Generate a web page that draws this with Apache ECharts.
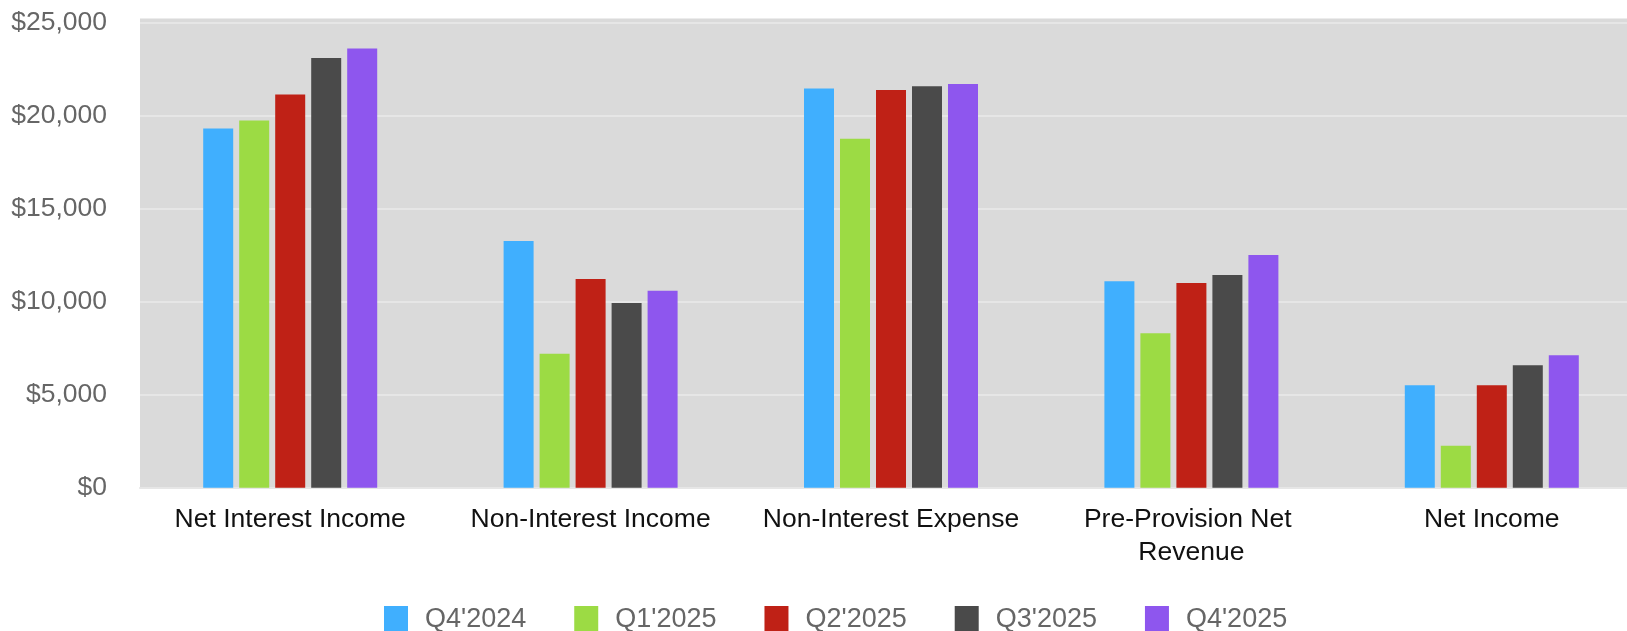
<!DOCTYPE html>
<html>
<head>
<meta charset="utf-8">
<script src="https://cdn.jsdelivr.net/npm/echarts@6/dist/echarts.min.js"></script>
<style>
html,body{margin:0;padding:0;background:#fff;}
#chart{width:1627px;height:631px;}
</style>
</head>
<body>
<div id="chart"></div>
<script>
const categories = ['Net Interest Income', 'Non-Interest Income', 'Non-Interest Expense', 'Pre-Provision Net Revenue', 'Net Income'];
const seriesNames = ["Q4'2024", "Q1'2025", "Q2'2025", "Q3'2025", "Q4'2025"];
const q4_2024 = [19300, 13260, 21450, 11100, 5500];
const q1_2025 = [19730, 7200, 18750, 8300, 2260];
const q2_2025 = [21130, 11220, 21370, 11000, 5500];
const q3_2025 = [23090, 9930, 21580, 11430, 6580];
const q4_2025 = [23600, 10590, 21690, 12510, 7120];
const yTicks = [0, 5000, 10000, 15000, 20000, 25000];
const colors = ['#40affe', '#9cdb44', '#bf2116', '#4a4a4a', '#8e56ee'];

const allData = [q4_2024, q1_2025, q2_2025, q3_2025, q4_2025];
const FONT = "'Liberation Sans', Arial, Helvetica, sans-serif";

const chart = echarts.init(document.getElementById('chart'), null, {renderer: 'canvas'});
chart.setOption({
  animation: false,
  backgroundColor: '#ffffff',
  color: colors,
  graphic: [{
    type: 'rect', left: 140, top: 18.5, z: -10, silent: true,
    shape: {width: 1500, height: 5},
    style: {fill: '#dadada'}
  }],
  grid: {
    left: 140, top: 22.5, width: 1502, height: 465.2,
    show: true, backgroundColor: '#dadada', borderWidth: 0,
    containLabel: false, outerBoundsMode: 'none'
  },
  legend: {
    data: seriesNames,
    left: 384, top: 606, padding: 0,
    itemWidth: 24, itemHeight: 28, itemGap: 48,
    icon: 'rect',
    textStyle: {color: '#666666', fontSize: 27, lineHeight: 24, fontFamily: FONT, padding: [0, 0, 0, 12]}
  },
  xAxis: {
    type: 'category',
    data: categories,
    axisTick: {show: false},
    axisLine: {show: true, lineStyle: {color: '#e6e6e6', width: 2}},
    axisLabel: {
      color: '#111111', fontSize: 26.5, fontFamily: FONT, margin: 15,
      width: 290, overflow: 'break', lineHeight: 33, interval: 0
    },
    splitLine: {show: false}
  },
  yAxis: {
    type: 'value',
    min: yTicks[0], max: yTicks[yTicks.length - 1], interval: 5000,
    axisLine: {show: false}, axisTick: {show: false},
    axisLabel: {
      color: '#666666', fontSize: 26.5, fontFamily: FONT, margin: 33,
      formatter: v => '$' + v.toLocaleString('en-US')
    },
    splitLine: {show: true, lineStyle: {color: '#e6e6e6', width: 2}}
  },
  series: seriesNames.map((n, i) => ({
    name: n, type: 'bar', data: allData[i],
    barWidth: 30, barGap: '20%',
    itemStyle: {color: colors[i]}
  }))
});
</script>
</body>
</html>
